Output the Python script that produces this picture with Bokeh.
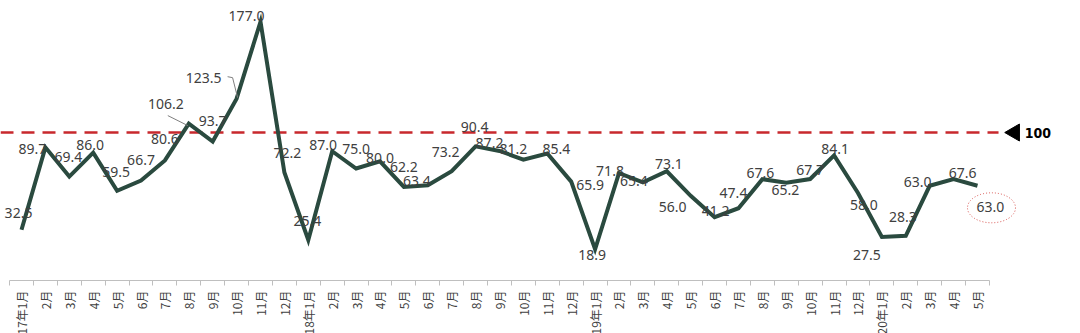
import math
from bokeh.plotting import figure
from bokeh.models import Range1d, LinearAxis, FixedTicker, ColumnDataSource
from bokeh.core.properties import value
from bokeh.embed import file_html
from bokeh.resources import INLINE

# ---- data ----
months = (["2017年1月"] + [f"{m}月" for m in range(2, 13)] +
          ["2018年1月"] + [f"{m}月" for m in range(2, 13)] +
          ["2019年1月"] + [f"{m}月" for m in range(2, 13)] +
          ["2020年1月"] + [f"{m}月" for m in range(2, 6)])
values = [32.5, 89.7, 69.4, 86.0, 59.5, 66.7, 80.6, 106.2, 93.7, 123.5, 177.0, 72.2,
          25.4, 87.0, 75.0, 80.0, 62.2, 63.4, 73.2, 90.4, 87.2, 81.2, 85.4, 65.9,
          18.9, 71.8, 65.4, 73.1, 56.0, 41.2, 47.4, 67.6, 65.2, 67.7, 84.1, 58.0,
          27.5, 28.3, 63.0, 67.6, 63.0]
ref_value = 100
ref_text = "100"

# ---- layout of data labels (screen px offsets from each point) ----
label_dx = [-3, -13, -1, -3, -1, 0, 0, -23, 0, -33, -14, 3,
            -1, -9, 0, 0, 0, -11, -6, -1, -10, -10, 9, 19,
            -3, -9, -9, 2, -18, 1, -5, -2, -1, 0, 1, 6,
            -15, -3, -12, 9, 13]
label_dy = [-17, 2, -20, -8, -19, -20, -21, -20, -21, -21, -6, -20,
            -19, -6, -20, -3, -20, -4, -19, -19, -8, -11, -5, 3,
            6, -2, -1, -7, 11, -6, -15, -6, 7, -9, -6, 12,
            18, -19, -4, -6, 21]

W, H = 1080, 333
x0, x1 = -0.879, 44.31
y1 = 191.7
y0 = -39.6
kx = W / (x1 - x0)
ky = H / (y1 - y0)

x = list(range(len(values)))

p = figure(width=W, height=H, x_range=Range1d(x0, x1), y_range=Range1d(y0, y1),
           output_backend="svg", toolbar_location=None, min_border=0,
           x_axis_type=None, y_axis_type=None)
p.outline_line_color = None
p.background_fill_color = "white"
p.border_fill_color = "white"

ax = LinearAxis(ticker=FixedTicker(ticks=x, minor_ticks=[i - 0.5 for i in range(len(x) + 1)]),
                fixed_location=-2.8, bounds=(-0.5, len(x) - 0.5))
ax.major_label_overrides = {i: m for i, m in enumerate(months)}
ax.major_label_orientation = math.pi / 2
ax.major_tick_out = 0
ax.major_tick_in = 0
ax.minor_tick_out = 5
ax.minor_tick_in = 0
ax.axis_line_color = "#bfbfbf"
ax.minor_tick_line_color = "#bfbfbf"
ax.major_label_text_font = "Noto Sans CJK SC"
ax.major_label_text_font_size = "12px"
ax.major_label_text_color = "#404040"
ax.major_label_standoff = 5
p.add_layout(ax, "below")

# reference line at 100
last = len(values) - 1
p.line(x=[x0, last + 0.88], y=[ref_value, ref_value], line_color="#C8282D",
       line_width=2.5, line_dash="13 8")
p.scatter(x=[last + 1.55], y=[ref_value], marker="triangle", size=17,
          angle=math.pi / 2, color="black")
p.text(x=[last + 1.98], y=[ref_value], text=[ref_text],
       text_font=value("DejaVu Sans Condensed"), text_font_style="bold",
       text_font_size="14px", text_baseline="middle", text_align="left",
       text_color="black")

# main series
p.line(x=x, y=values, line_color="#2A4A3F", line_width=4, line_join="miter")

# leader lines for two labels
for i, pts in [(7, [(-21, -8), (-1, 2)]), (9, [(-9, -22), (-4, -21), (1, -1)])]:
    p.line(x=[x[i] + dx / kx for dx, dy in pts],
           y=[values[i] - dy / ky for dx, dy in pts],
           line_color="#7f7f7f", line_width=1)

# highlight ellipse around the last value
p.ellipse(x=[x[-1] + 14 / kx], y=[values[-1] - 22 / ky], width=48, height=30,
          width_units="screen", height_units="screen", fill_color=None,
          line_color="#d9534f", line_dash="1 2", line_width=1)

src = ColumnDataSource(dict(x=x, y=values, t=[f"{v:.1f}" for v in values],
                            dx=label_dx, dy=label_dy))
p.text(x="x", y="y", text="t", x_offset="dx", y_offset="dy", source=src,
       text_align="center", text_baseline="middle", text_font=value("Noto Sans"),
       text_font_size="14px", text_color="#404040")

open("out.html", "w").write(file_html(p, INLINE))
